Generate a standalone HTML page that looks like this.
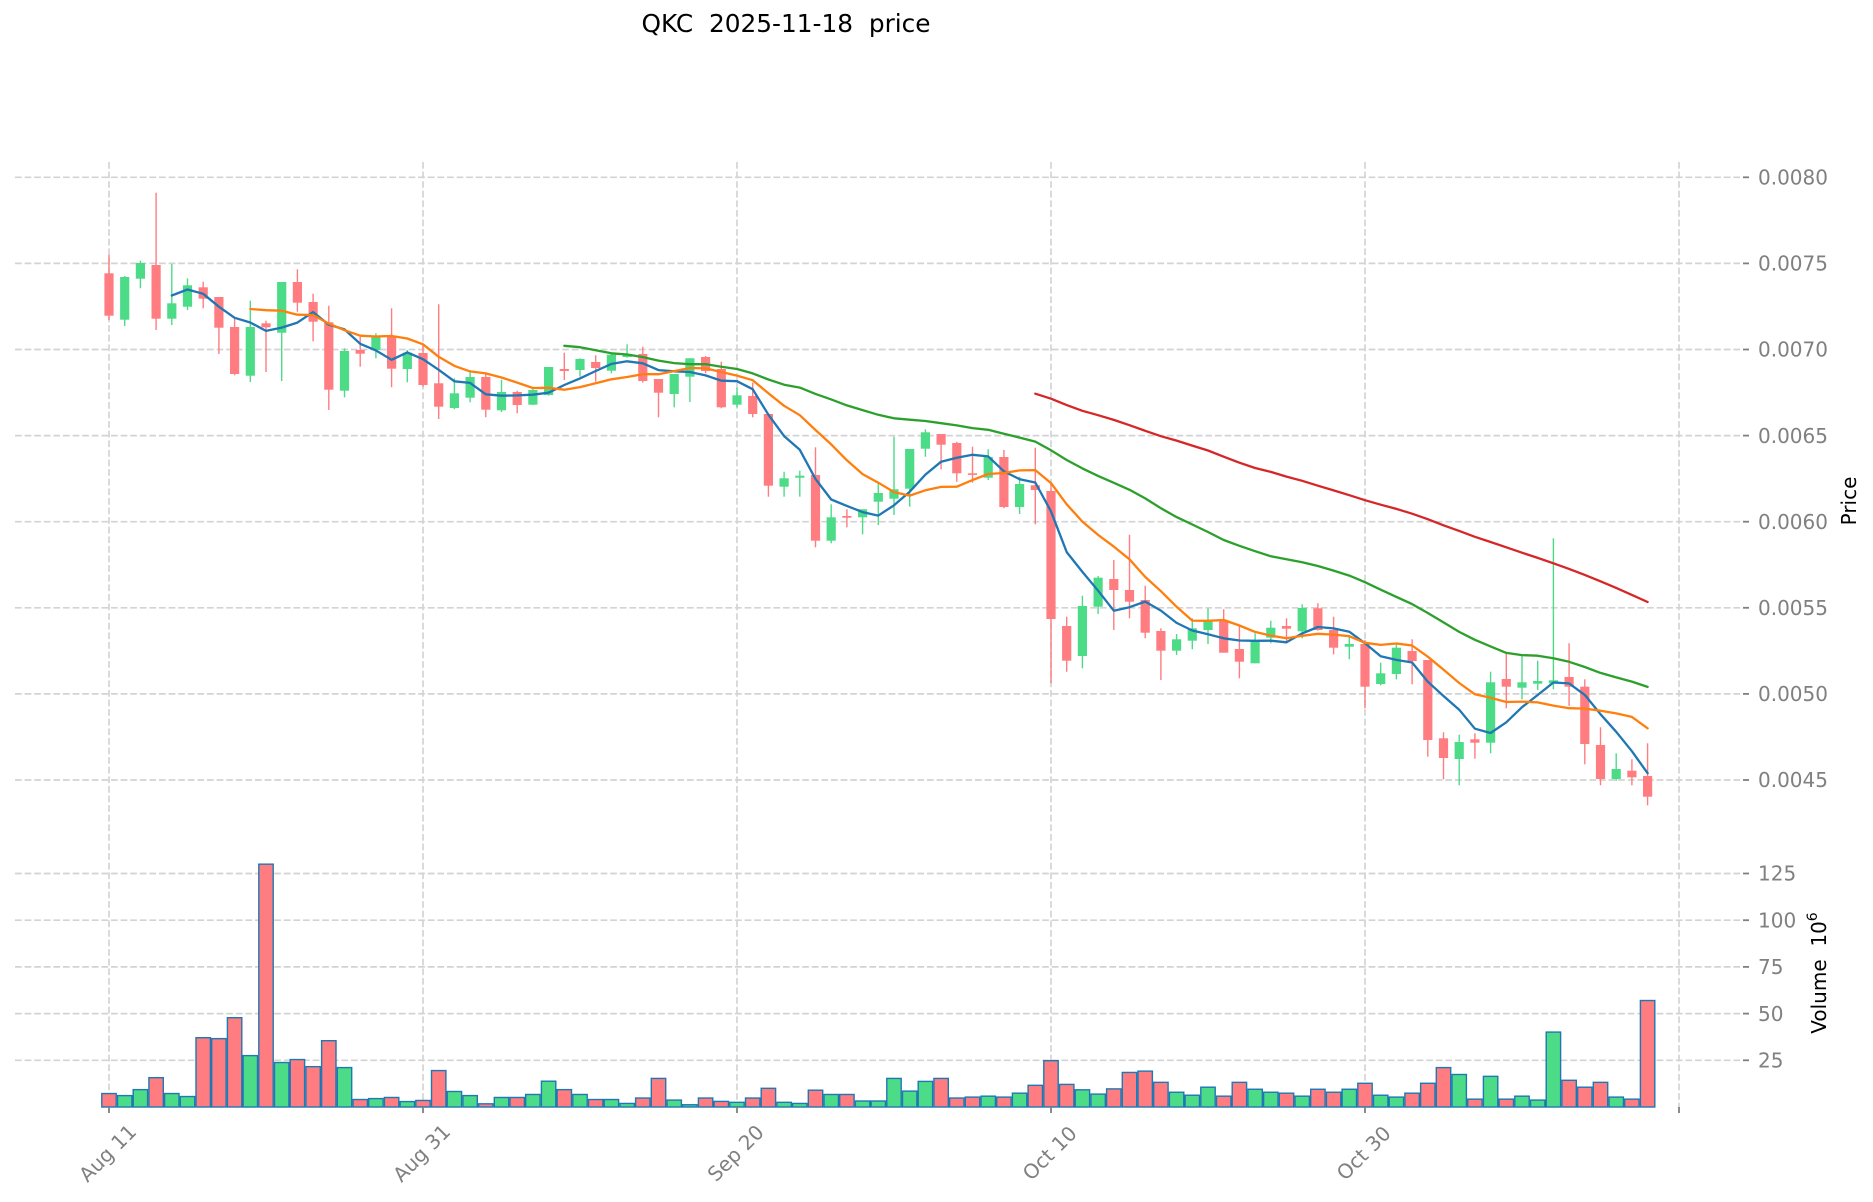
<!DOCTYPE html>
<html>
<head>
<meta charset="utf-8">
<style>
html,body{margin:0;padding:0;background:#ffffff;}
svg{display:block;}
text{font-family:"DejaVu Sans","Liberation Sans",sans-serif;}
</style>
</head>
<body>
<svg id="chart" width="1873" height="1202" viewBox="0 0 1873 1202" xmlns="http://www.w3.org/2000/svg">
<rect x="0" y="0" width="1873" height="1202" fill="#ffffff"/>

<!-- grid -->
<g stroke="#d3d3d3" stroke-width="1.7" stroke-dasharray="6.7 2.9" fill="none">
  <line x1="15" x2="1743" y1="177.3" y2="177.3"/>
  <line x1="15" x2="1743" y1="263.4" y2="263.4"/>
  <line x1="15" x2="1743" y1="349.5" y2="349.5"/>
  <line x1="15" x2="1743" y1="435.6" y2="435.6"/>
  <line x1="15" x2="1743" y1="521.7" y2="521.7"/>
  <line x1="15" x2="1743" y1="607.8" y2="607.8"/>
  <line x1="15" x2="1743" y1="693.9" y2="693.9"/>
  <line x1="15" x2="1743" y1="780.0" y2="780.0"/>
  <line x1="15" x2="1743" y1="873.5" y2="873.5"/>
  <line x1="15" x2="1743" y1="920.2" y2="920.2"/>
  <line x1="15" x2="1743" y1="966.9" y2="966.9"/>
  <line x1="15" x2="1743" y1="1013.6" y2="1013.6"/>
  <line x1="15" x2="1743" y1="1060.3" y2="1060.3"/>
  <line x1="109" x2="109" y1="162" y2="1107"/>
  <line x1="423" x2="423" y1="162" y2="1107"/>
  <line x1="737" x2="737" y1="162" y2="1107"/>
  <line x1="1051" x2="1051" y1="162" y2="1107"/>
  <line x1="1365" x2="1365" y1="162" y2="1107"/>
  <line x1="1679" x2="1679" y1="162" y2="1107"/>
</g>

<g id="vol"></g>
<g id="candles"></g>
<g id="ma"></g>

<!-- tick marks -->
<g stroke="#808080" stroke-width="1.8">
  <line x1="1743" x2="1749" y1="177.3" y2="177.3"/>
  <line x1="1743" x2="1749" y1="263.4" y2="263.4"/>
  <line x1="1743" x2="1749" y1="349.5" y2="349.5"/>
  <line x1="1743" x2="1749" y1="435.6" y2="435.6"/>
  <line x1="1743" x2="1749" y1="521.7" y2="521.7"/>
  <line x1="1743" x2="1749" y1="607.8" y2="607.8"/>
  <line x1="1743" x2="1749" y1="693.9" y2="693.9"/>
  <line x1="1743" x2="1749" y1="780.0" y2="780.0"/>
  <line x1="1743" x2="1749" y1="873.5" y2="873.5"/>
  <line x1="1743" x2="1749" y1="920.2" y2="920.2"/>
  <line x1="1743" x2="1749" y1="966.9" y2="966.9"/>
  <line x1="1743" x2="1749" y1="1013.6" y2="1013.6"/>
  <line x1="1743" x2="1749" y1="1060.3" y2="1060.3"/>
  <line x1="109" x2="109" y1="1107" y2="1113"/>
  <line x1="423" x2="423" y1="1107" y2="1113"/>
  <line x1="737" x2="737" y1="1107" y2="1113"/>
  <line x1="1051" x2="1051" y1="1107" y2="1113"/>
  <line x1="1365" x2="1365" y1="1107" y2="1113"/>
  <line x1="1679" x2="1679" y1="1107" y2="1113"/>
</g>

<!-- price tick labels -->
<g fill="#808080" font-size="20">
  <text x="1758" y="177.3" dy="0.36em">0.0080</text>
  <text x="1758" y="263.4" dy="0.36em">0.0075</text>
  <text x="1758" y="349.5" dy="0.36em">0.0070</text>
  <text x="1758" y="435.6" dy="0.36em">0.0065</text>
  <text x="1758" y="521.7" dy="0.36em">0.0060</text>
  <text x="1758" y="607.8" dy="0.36em">0.0055</text>
  <text x="1758" y="693.9" dy="0.36em">0.0050</text>
  <text x="1758" y="780.0" dy="0.36em">0.0045</text>
  <text x="1758" y="873.5" dy="0.36em">125</text>
  <text x="1758" y="920.2" dy="0.36em">100</text>
  <text x="1758" y="966.9" dy="0.36em">75</text>
  <text x="1758" y="1013.6" dy="0.36em">50</text>
  <text x="1758" y="1060.3" dy="0.36em">25</text>
</g>

<!-- x tick labels -->
<g fill="#808080" font-size="20" text-anchor="middle">
  <text transform="translate(107.5,1153) rotate(-45)" dy="0.36em">Aug 11</text>
  <text transform="translate(421.5,1153) rotate(-45)" dy="0.36em">Aug 31</text>
  <text transform="translate(735.5,1153) rotate(-45)" dy="0.36em">Sep 20</text>
  <text transform="translate(1049.5,1153) rotate(-45)" dy="0.36em">Oct 10</text>
  <text transform="translate(1363.5,1153) rotate(-45)" dy="0.36em">Oct 30</text>
</g>

<!-- axis labels -->
<text transform="translate(1856,501) rotate(-90)" text-anchor="middle" font-size="20" fill="#000">Price</text>
<text transform="translate(1826,973) rotate(-90)" text-anchor="middle" font-size="20" fill="#000" style="white-space:pre">Volume  10<tspan font-size="14" dy="-9">6</tspan></text>

<!-- title -->
<text x="786" y="32" text-anchor="middle" font-size="24.8" fill="#000" style="white-space:pre">QKC  2025-11-18  price</text>
</svg>

<script>
(function(){
var D=[
[273.3,255,320,315.7],[319.7,276,326,277],[278.7,260.7,288.3,263],[265,192.7,330,318.7],[318.7,264,325,303.3],
[306.7,278.3,310,285.3],[287.3,281.7,308.3,298.7],[297,297,354,327.7],[327,319,375.3,374],[375.7,300.7,382,327],
[323.3,320.7,372,327.3],[332.7,282,381,282],[282,269.3,311.7,302.7],[302,293.7,341.3,321.7],[322.3,305.7,410,389.7],
[390.7,348.3,397.3,351],[350,336.7,366.7,353.7],[350,333.3,358.3,336],[335.7,308.3,387.3,368.7],[369,350,382.3,352.7],
[353,345.7,386.7,385],[383.3,304.3,419,406.7],[408,378.3,409.3,393.3],[397.7,372,402.3,377],[377,372.7,417.3,409.7],
[410.3,379.7,412,392],[392,390.7,413.3,405],[404.7,388,405,390],[395,367,395.7,367],[369,352.7,380,371],
[370,358.3,376.7,359],[362,355.3,381.7,368],[370.7,353.3,373.3,354.7],[357,344.3,357.7,354],[354,346.7,382.7,381],
[379,379,417.3,392.7],[394,374,407.3,374],[376.7,358.3,402,358.3],[357,356,373.3,371],[369,361.7,408.3,407.3],
[404.7,387.7,407.3,395.3],[396,382.7,417.3,414],[414,414,496.7,485.7],[486.7,471.7,496.7,478.3],[477.7,470.7,496.7,475.7],
[475,447.3,547.3,540.7],[540.7,504.3,543.3,517.3],[516,509.3,527.3,517.7],[517.3,509.3,534.3,509.3],[501.7,483.3,525,493],
[498.7,436.7,515,489.3],[488.7,449,506.7,449],[448.7,429.3,456.7,432.3],[434,434,469.3,444.7],[443,441.7,481.7,473.3],
[473.3,446.7,482.7,474.7],[477.7,449.3,480,457],[457,450,508.3,507],[507,476.7,514,484],[485.3,447.7,524.3,490],
[491,484,683.3,619],[626,616.7,671.7,660.7],[656,595.7,668.3,606],[606.7,576,614,577.7],[579,560,630,590],
[590,534.7,618.3,601.7],[600,585.7,638.3,632.7],[631,628.3,680,650.7],[650.7,634,655,639.3],[640.7,618.3,649.3,628.3],
[630,608.3,644,620.7],[620,609.3,652.7,652.7],[649,626,678.3,661.7],[663.3,633.3,663.3,640.7],[637.7,620.7,643.3,627.7],
[626,618.3,643.3,628.7],[631.3,604.3,638.3,608],[608.3,603.3,630.7,630],[630,616.7,654.3,647.7],[646.7,637.3,659.3,644],
[644,640,708.3,686.7],[684,662.7,685.3,673.3],[674,644.3,679.3,647.7],[651,639.3,684.3,661],[660,660,756.7,740],
[738.3,732.3,779.3,758],[759,734.7,785.3,742],[739.3,733.3,758.7,742.7],[742.7,671.7,753.3,682.3],[679,653.3,708.3,686.7],
[687.7,655,699.3,682.3],[683.7,660.7,690,681],[683.3,538.3,689.3,680.3],[677,643.3,706,686.7],[686.7,679.3,764.3,744],
[745,727.3,785.3,779],[779,753.3,780.7,769],[770.7,759.3,785.3,777.3],[776,743.3,805.3,796.7]
];
var V=[7.2,6.1,9.3,15.7,7.2,5.6,37.1,36.6,47.8,27.5,
130,23.8,25.4,21.6,35.5,21.1,4.0,4.5,5.1,2.9,
3.5,19.5,8.3,6.1,1.7,5.1,5.1,6.7,13.8,9.3,
6.7,4.0,4.0,1.9,4.8,15.3,3.7,1.2,4.8,3.0,
2.5,4.8,10.0,2.5,1.9,9.0,6.7,6.7,3.2,3.2,
15.3,8.5,13.7,15.3,4.8,5.3,5.8,5.3,7.4,11.6,
24.8,12.1,9.2,6.9,9.7,18.5,19.2,13.2,7.9,6.3,
10.6,5.8,13.2,9.5,7.9,7.4,5.8,9.5,7.9,9.5,
12.7,6.3,5.3,7.4,12.7,21.1,17.4,4.2,16.4,4.2,
5.8,3.7,40.1,14.3,10.6,13.2,5.3,4.2,57.0];
var NS="http://www.w3.org/2000/svg";
function el(tag,attrs,parent){var e=document.createElementNS(NS,tag);for(var k in attrs)e.setAttribute(k,attrs[k]);parent.appendChild(e);return e;}
var GREEN="#4cdc88", RED="#ff7c80";
var BASE=1107, VS=1.868;
var cg=document.getElementById("candles"), vg=document.getElementById("vol"), mg=document.getElementById("ma");
function X(i){return 109+15.7*i;}
for(var i=0;i<D.length;i++){
  var d=D[i], x=X(i), o=d[0], h=d[1], l=d[2], c=d[3];
  var up=c<o, col=up?GREEN:RED;
  el("line",{x1:x,x2:x,y1:h,y2:l,stroke:col,"stroke-width":1.4},cg);
  var top=Math.min(o,c), bh=Math.max(Math.abs(o-c),1.6);
  el("rect",{x:(x-4.6).toFixed(2),y:top,width:9.2,height:bh,fill:col},cg);
  var vy=BASE-V[i]*VS;
  el("rect",{x:(x-7.2).toFixed(2),y:vy.toFixed(2),width:14.4,height:(BASE-vy).toFixed(2),fill:col,stroke:"#1f77b4","stroke-width":1.4},vg);
}
var mas=[[5,"#1f77b4"],[10,"#ff7f0e"],[30,"#2ca02c"],[60,"#d62728"]];
for(var m=0;m<mas.length;m++){
  var n=mas[m][0], pts=[];
  for(var k=n-1;k<D.length;k++){
    var s=0;for(var j=k-n+1;j<=k;j++)s+=D[j][3];
    pts.push(X(k).toFixed(1)+","+(s/n).toFixed(1));
  }
  el("polyline",{points:pts.join(" "),fill:"none",stroke:mas[m][1],"stroke-width":2.3,"stroke-linejoin":"round","stroke-linecap":"round"},mg);
}
})();
</script>
</body>
</html>
